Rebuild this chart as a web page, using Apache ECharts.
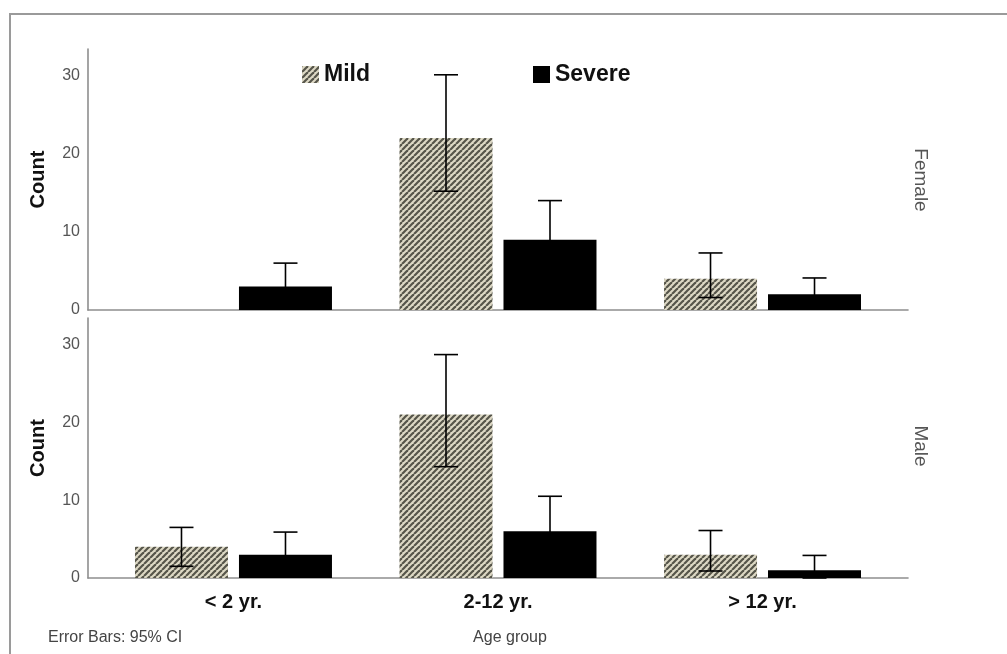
<!DOCTYPE html>
<html>
<head>
<meta charset="utf-8">
<title>Count by age group</title>
<script src="https://cdn.jsdelivr.net/npm/echarts@6/dist/echarts.min.js"></script>
<style>
    html, body { margin: 0; padding: 0; background: #fff; }
    #chart { width: 1007px; height: 654px; }
</style>
</head>
<body>
<div id="chart"></div>
<script>
// data
let ageGroups = ['< 2 yr.', '2-12 yr.', '> 12 yr.'];
let yTicks = [0, 10, 20, 30];

let femaleMild = [0, 22, 4];
let femaleSevere = [3, 9, 2];
let maleMild = [4, 21, 3];
let maleSevere = [3, 6, 1];

// 95% CI [lower, upper], null where no bar
let femaleMildCI = [null, [15.2, 30.1], [1.6, 7.3]];
let femaleSevereCI = [[0.6, 6.0], [4.2, 14.0], [0.2, 4.1]];
let maleMildCI = [[1.5, 6.5], [14.3, 28.7], [0.9, 6.1]];
let maleSevereCI = [[0.6, 5.9], [2.3, 10.5], [0, 2.9]];

let BAR_W = 93;
let BAR_GAP = 11;
let FONT = "'Liberation Sans', Arial, sans-serif";

/**
 * 斜线填充
 */
function hatchPattern() {
    let s = 6;
    let c = document.createElement('canvas');
    c.width = s;
    c.height = s;
    let ctx = c.getContext('2d');
    ctx.fillStyle = '#ddd9c5';
    ctx.fillRect(0, 0, s, s);
    ctx.strokeStyle = '#56554a';
    ctx.lineWidth = 2.2;
    for (let k = -1; k <= 1; k++) {
        ctx.beginPath();
        ctx.moveTo(k * s, s);
        ctx.lineTo(k * s + s, 0);
        ctx.stroke();
    }
    return { image: c, repeat: 'repeat' };
}

function toPairs(values) {
    return values.map(function (v, i) { return [i, v]; });
}

function toCI(ci) {
    let out = [];
    ci.forEach(function (d, i) {
        if (d) out.push([i, d[0], d[1]]);
    });
    return out;
}

function errorBarRender(offset) {
    return function (params, api) {
        let lo = api.coord([api.value(0), api.value(1)]);
        let hi = api.coord([api.value(0), api.value(2)]);
        let x = lo[0] + offset;
        let half = 12;
        let style = { stroke: '#000', lineWidth: 1.6 };
        return {
            type: 'group',
            children: [
                { type: 'line', shape: { x1: x, y1: lo[1], x2: x, y2: hi[1] }, style: style },
                { type: 'line', shape: { x1: x - half, y1: hi[1], x2: x + half, y2: hi[1] }, style: style },
                { type: 'line', shape: { x1: x - half, y1: lo[1], x2: x + half, y2: lo[1] }, style: style }
            ]
        };
    };
}

let hatch = hatchPattern();
let shift = (BAR_W + BAR_GAP) / 2;

function xAxisFor(gridIndex, showLabels) {
    return {
        type: 'value',
        gridIndex: gridIndex,
        min: -0.55,
        max: 2.55,
        splitLine: { show: false },
        axisTick: { show: false },
        axisLine: { show: true, onZero: false, lineStyle: { color: '#8e8e8e', width: 1.6 } },
        axisLabel: {
            show: showLabels,
            customValues: [0, 1, 2],
            formatter: function (v) { return ageGroups[Math.round(v)]; },
            color: '#111',
            fontWeight: 'bold',
            fontSize: 20,
            fontFamily: FONT,
            margin: 14
        }
    };
}

function yAxisFor(gridIndex) {
    return {
        type: 'value',
        gridIndex: gridIndex,
        min: 0,
        max: 33.4,
        name: 'Count',
        nameLocation: 'middle',
        nameGap: 40,
        nameTextStyle: { color: '#111', fontWeight: 'bold', fontSize: 20, fontFamily: FONT },
        splitLine: { show: false },
        axisTick: { show: false },
        axisLine: { show: true, onZero: false, lineStyle: { color: '#8e8e8e', width: 1.6 } },
        axisLabel: {
            customValues: yTicks,
            color: '#555',
            fontSize: 16,
            fontFamily: FONT,
            margin: 8
        }
    };
}

function barSeries(name, values, color, gridIndex) {
    return {
        name: name,
        type: 'bar',
        xAxisIndex: gridIndex,
        yAxisIndex: gridIndex,
        barWidth: BAR_W,
        barGap: (BAR_GAP / BAR_W * 100).toFixed(1) + '%',
        itemStyle: { color: color },
        data: toPairs(values)
    };
}

function ciSeries(ci, offset, gridIndex) {
    return {
        type: 'custom',
        xAxisIndex: gridIndex,
        yAxisIndex: gridIndex,
        z: 5,
        renderItem: errorBarRender(offset),
        encode: { x: 0, y: [1, 2] },
        data: toCI(ci)
    };
}

let chart = echarts.init(document.getElementById('chart'));
chart.setOption({
    animation: false,
    backgroundColor: '#fff',
    legend: {
        left: 297,
        top: 58,
        itemWidth: 17,
        itemHeight: 17,
        itemGap: 163,
        icon: 'rect',
        selectedMode: false,
        textStyle: { color: '#111', fontWeight: 'bold', fontSize: 23, fontFamily: FONT },
        data: ['Mild', 'Severe']
    },
    grid: [
        { left: 88, right: 99, top: 49, height: 261 },
        { left: 88, right: 99, top: 318, height: 260 }
    ],
    xAxis: [xAxisFor(0, false), xAxisFor(1, true)],
    yAxis: [yAxisFor(0), yAxisFor(1)],
    series: [
        barSeries('Mild', femaleMild, hatch, 0),
        barSeries('Severe', femaleSevere, '#000', 0),
        barSeries('Mild', maleMild, hatch, 1),
        barSeries('Severe', maleSevere, '#000', 1),
        ciSeries(femaleMildCI, -shift, 0),
        ciSeries(femaleSevereCI, shift, 0),
        ciSeries(maleMildCI, -shift, 1),
        ciSeries(maleSevereCI, shift, 1)
    ],
    graphic: [
        {
            type: 'polyline',
            shape: { points: [[10, 654], [10, 14], [1007, 14]] },
            style: { stroke: '#9a9a9a', lineWidth: 2, fill: null }
        },
        {
            type: 'text', x: 920, y: 180, rotation: -Math.PI / 2,
            style: { text: 'Female', fill: '#555', fontSize: 19, fontFamily: FONT, align: 'center', verticalAlign: 'middle' }
        },
        {
            type: 'text', x: 920, y: 446, rotation: -Math.PI / 2,
            style: { text: 'Male', fill: '#555', fontSize: 19, fontFamily: FONT, align: 'center', verticalAlign: 'middle' }
        },
        {
            type: 'text', x: 48, y: 638,
            style: { text: 'Error Bars: 95% CI', fill: '#444', fontSize: 16, fontFamily: FONT, verticalAlign: 'middle' }
        },
        {
            type: 'text', x: 510, y: 638,
            style: { text: 'Age group', fill: '#444', fontSize: 16, fontFamily: FONT, align: 'center', verticalAlign: 'middle' }
        }
    ]
});
</script>
</body>
</html>
